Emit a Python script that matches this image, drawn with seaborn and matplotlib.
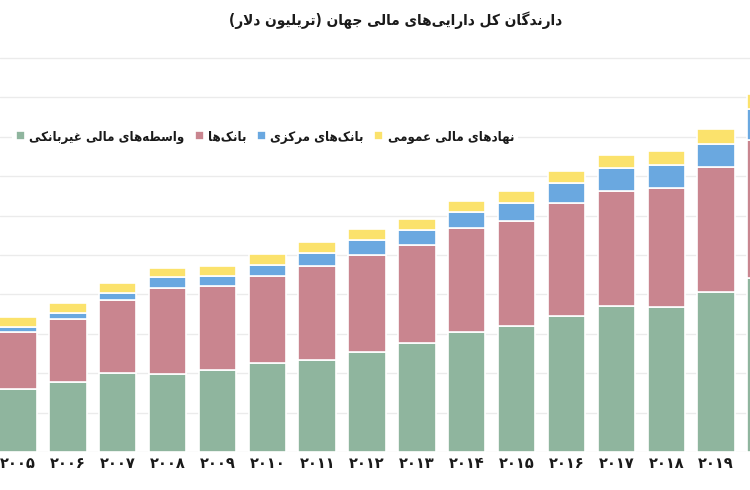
import matplotlib
matplotlib.use("Agg")
import matplotlib.pyplot as plt
import seaborn as sns

sns.set_theme(style="whitegrid")
plt.rcParams["font.family"] = ["DejaVu Sans"]

# values, trillion dollars
years = ["۲۰۰۵", "۲۰۰۶", "۲۰۰۷", "۲۰۰۸", "۲۰۰۹", "۲۰۱۰", "۲۰۱۱", "۲۰۱۲",
         "۲۰۱۳", "۲۰۱۴", "۲۰۱۵", "۲۰۱۶", "۲۰۱۷", "۲۰۱۸", "۲۰۱۹", "۲۰۲۰"]
nonbank = [79.6, 89.2, 100.6, 99.0, 104.0, 112.6, 116.8, 127.3,
           138.7, 152.7, 159.9, 172.6, 185.7, 184.4, 203.4, 220.4]
banks = [73.0, 79.6, 92.3, 109.5, 106.6, 110.8, 119.7, 122.7,
         124.0, 131.2, 133.6, 143.0, 145.6, 150.3, 157.9, 175.5]
central = [6.0, 7.2, 8.5, 13.2, 12.7, 14.0, 16.5, 19.0,
           19.0, 21.1, 22.8, 25.4, 28.8, 29.6, 29.6, 39.0]
public = [13.0, 12.7, 12.7, 12.2, 12.7, 13.6, 13.2, 14.0,
          14.0, 14.0, 15.2, 16.0, 16.9, 18.1, 18.7, 19.4]

title = "دارندگان کل دارایی‌های مالی جهان (تریلیون دلار)"
series_names = ["واسطه‌های مالی غیربانکی", "بانک‌ها", "بانک‌های مرکزی", "نهادهای مالی عمومی"]
colors = ["#8fb59e", "#c9858f", "#6aa8e0", "#fbe26c"]

# matplotlib has no arabic shaping, so pick the presentation forms by hand
# first code point of each letter: isolated, final, initial, medial
dual = {"ب": 0xFE8F, "ت": 0xFE95, "ث": 0xFE99, "ج": 0xFE9D, "ح": 0xFEA1,
        "خ": 0xFEA5, "س": 0xFEB1, "ش": 0xFEB5, "ص": 0xFEB9, "ض": 0xFEBD,
        "ط": 0xFEC1, "ظ": 0xFEC5, "ع": 0xFEC9, "غ": 0xFECD, "ف": 0xFED1,
        "ق": 0xFED5, "ل": 0xFEDD, "م": 0xFEE1, "ن": 0xFEE5, "ه": 0xFEE9,
        "ی": 0xFBFC, "ک": 0xFB8E, "گ": 0xFB92, "پ": 0xFB56, "چ": 0xFB7A}
right = {"ا": 0xFE8D, "آ": 0xFE81, "د": 0xFEA9, "ذ": 0xFEAB, "ر": 0xFEAD,
         "ز": 0xFEAF, "ژ": 0xFB8A, "و": 0xFEED}


def shape(text):
    out = []
    i = 0
    n = len(text)
    while i < n:
        c = text[i]
        prev = text[i - 1] if i > 0 else ""
        nxt = text[i + 1] if i + 1 < n else ""
        if c == "ل" and nxt == "ا":
            out.append(chr(0xFEFC if prev in dual else 0xFEFB))
            i += 2
            continue
        if c in dual or c in right:
            p = prev in dual
            q = c in dual and (nxt in dual or nxt in right)
            base = dual.get(c, right.get(c))
            form = 3 if (p and q) else 2 if q else 1 if p else 0
            out.append(chr(base + form))
        elif c != "\u200c":
            out.append(c)
        i += 1
    visual = "".join(reversed(out))
    return visual.translate(str.maketrans("()", ")("))


fig = plt.figure(figsize=(7.5, 4.9), dpi=100)
ax = fig.add_axes([0, 38 / 490, 1, (452 - 34.4) / 490])

bottom = [0.0] * len(years)
for name, vals, col in zip(series_names, [nonbank, banks, central, public], colors):
    sns.barplot(x=years, y=vals, bottom=bottom, color=col, saturation=1,
                width=0.75, edgecolor="white", linewidth=1.2, errorbar=None,
                label=shape(name), ax=ax)
    bottom = [b + v for b, v in zip(bottom, vals)]

ax.set_xlim(-0.361, 14.68)
ax.set_ylim(0, 530)
ax.set_yticks(range(0, 501, 50))
ax.set_yticklabels([])
ax.set_xlabel("")
ax.set_ylabel("")
ax.set_facecolor("white")
ax.grid(axis="x", visible=False)
ax.grid(axis="y", color="#ebebeb", linewidth=1)
ax.set_axisbelow(True)
for s in ax.spines.values():
    s.set_visible(False)
ax.tick_params(axis="both", length=0)
ax.tick_params(axis="x", pad=3)
for lab in ax.get_xticklabels():
    lab.set_fontsize(10.5)
    lab.set_fontweight("bold")
    lab.set_color("#1a1a1a")

leg = ax.legend(loc="center left", bbox_to_anchor=(12 / 750, 1 - 137 / 490),
                bbox_transform=fig.transFigure, ncol=4, frameon=True,
                facecolor="white", edgecolor="none", framealpha=1,
                handlelength=0.65, handleheight=0.65, handletextpad=0.35,
                columnspacing=0.8, borderaxespad=0, borderpad=0.3,
                prop={"size": 9.5, "weight": "bold", "stretch": "condensed"})
for t in leg.get_texts():
    t.set_color("#1a1a1a")

fig.text(396 / 750, 1 - 20 / 490, shape(title), ha="center", va="center",
         fontsize=11, fontweight="bold", fontstretch="condensed",
         color="#1a1a1a")

fig.savefig("out.png", dpi=100, facecolor="white")
